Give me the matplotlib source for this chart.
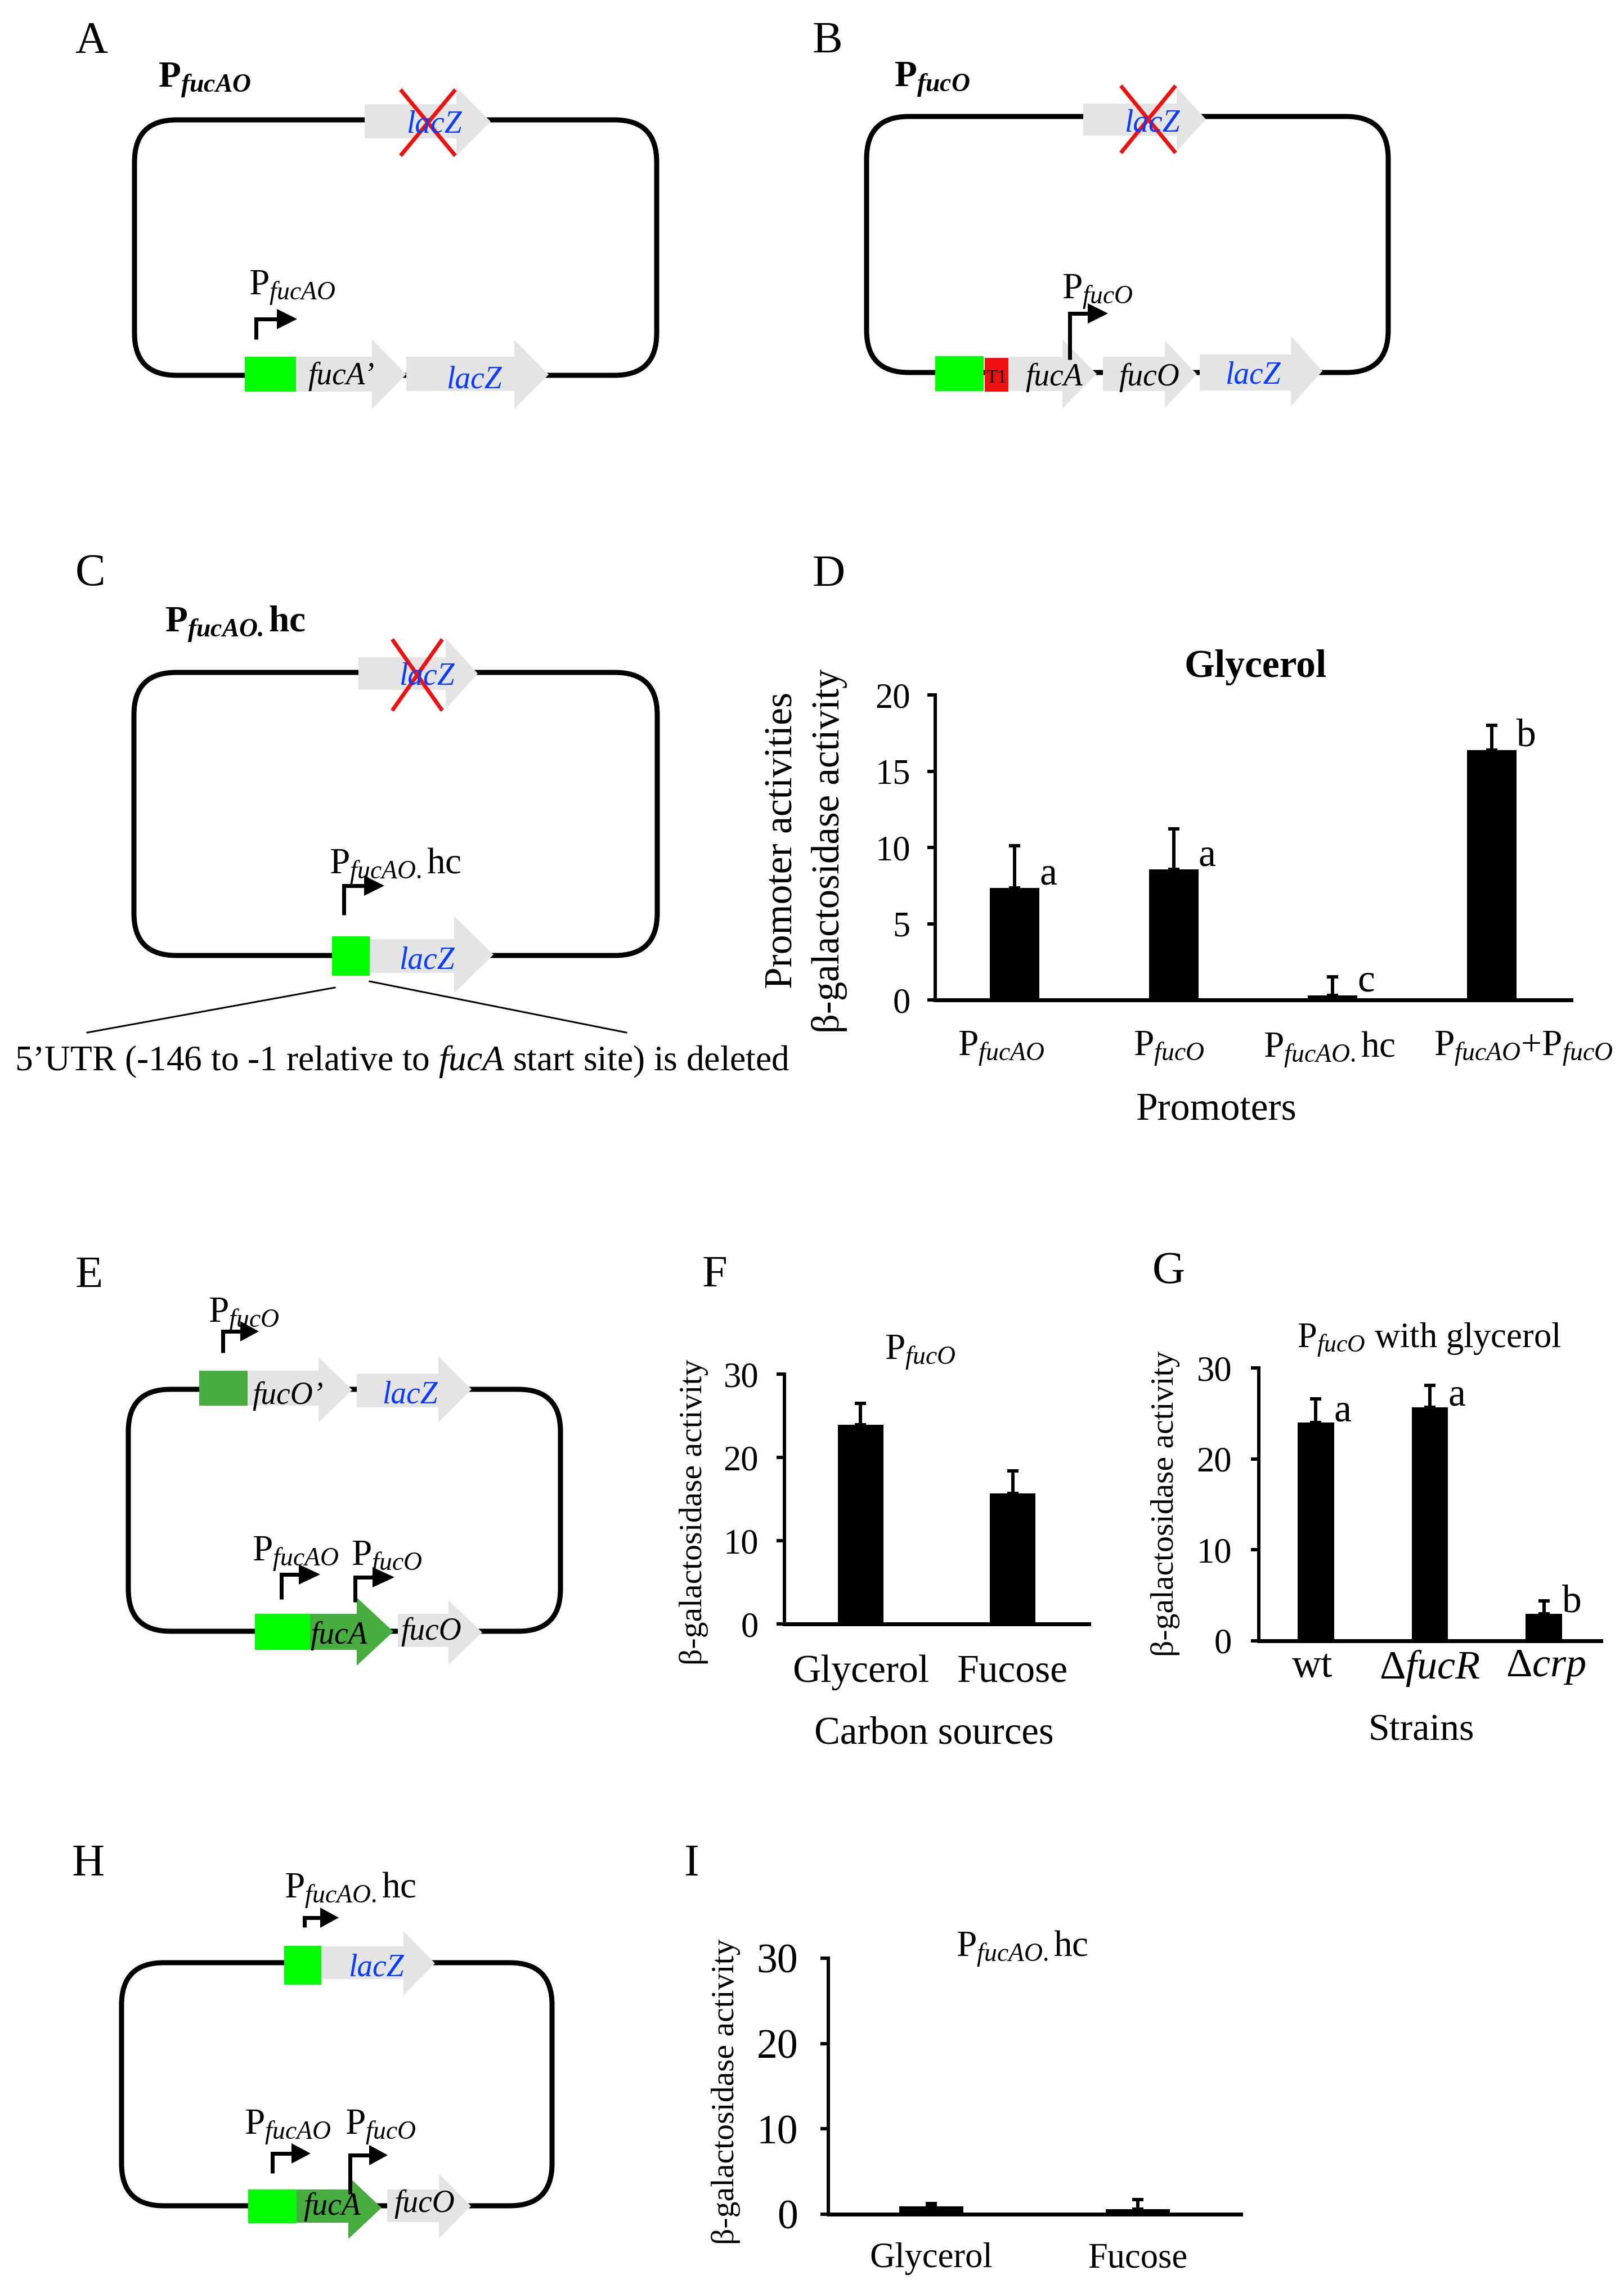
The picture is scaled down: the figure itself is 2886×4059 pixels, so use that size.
import numpy as np
import matplotlib

matplotlib.use("Agg")
import matplotlib.pyplot as plt
from matplotlib.patches import FancyBboxPatch, Polygon, Rectangle

plt.rcParams["font.family"] = ["Liberation Serif", "DejaVu Serif"]
plt.rcParams["mathtext.fontset"] = "custom"
plt.rcParams["mathtext.rm"] = "Liberation Serif"
plt.rcParams["mathtext.it"] = "Liberation Serif:italic"
plt.rcParams["mathtext.bf"] = "Liberation Serif:bold"
plt.rcParams["mathtext.bfit"] = "Liberation Serif:italic:bold"

# chart data
d_labels = [r"$\mathrm{P}_{\mathit{fucAO}}$", r"$\mathrm{P}_{\mathit{fucO}}$",
            r"$\mathrm{P}_{\mathit{fucAO.}}\mathrm{hc}$",
            r"$\mathrm{P}_{\mathit{fucAO}}\mathrm{+P}_{\mathit{fucO}}$"]
d_values = [7.34, 8.56, 0.3, 16.4]
d_errors = [2.76, 2.64, 1.2, 1.6]
d_letters = ["a", "a", "c", "b"]
d_ticks = [0, 5, 10, 15, 20]

f_labels = ["Glycerol", "Fucose"]
f_values = [23.9, 15.7]
f_errors = [2.6, 2.7]
f_ticks = [0, 10, 20, 30]

g_labels = ["wt", r"$\Delta\mathit{fucR}$", r"$\Delta\mathit{crp}$"]
g_values = [24.0, 25.7, 3.0]
g_errors = [2.6, 2.4, 1.4]
g_letters = ["a", "a", "b"]
g_ticks = [0, 10, 20, 30]

i_labels = ["Glycerol", "Fucose"]
i_values = [0.9, 0.6]
i_errors = [0.35, 1.1]
i_ticks = [0, 10, 20, 30]

W, H = 2886, 4059
GRAY = "#e4e4e4"
GREEN = "#00ff00"
DARK = "#46ad3e"
BLUE = "#0a3cff"
RED = "#f01010"
PX = 0.72  # points per pixel at dpi 100

P_AO = r"$\mathrm{P}_{\mathit{fucAO}}$"
P_O = r"$\mathrm{P}_{\mathit{fucO}}$"
P_HC = r"$\mathrm{P}_{\mathit{fucAO.}}\mathrm{hc}$"

fig = plt.figure(figsize=(W / 100, H / 100), dpi=100)
bg = fig.add_axes([0, 0, 1, 1])
bg.set_xlim(0, W)
bg.set_ylim(H, 0)
bg.axis("off")


def label(x, y, s, size=47, **kw):
    kw.setdefault("color", "black")
    bg.text(x, y, s, fontsize=size, va="baseline", zorder=6, **kw)


def loop(x0, y0, x1, y1):
    bg.add_patch(FancyBboxPatch((x0, y0), x1 - x0, y1 - y0,
                                boxstyle="round,pad=0,rounding_size=75",
                                fill=False, ec="black", lw=9 * PX, zorder=1))


def gene(x0, neck, tip, y0, y1, h0, h1, color=GRAY):
    mid = (h0 + h1) / 2
    pts = [(x0, y0), (neck, y0), (neck, h0), (tip, mid), (neck, h1), (neck, y1), (x0, y1)]
    bg.add_patch(Polygon(pts, closed=True, fc=color, ec="none", zorder=2))


def box(x0, x1, y0, y1, color=GREEN):
    bg.add_patch(Rectangle((x0, y0), x1 - x0, y1 - y0, fc=color, ec="none", zorder=3))


def promoter(x, y0, y1, x1, tip, half=18):
    bg.plot([x, x, x1], [y0, y1, y1], color="black", lw=7 * PX, zorder=5,
            solid_joinstyle="miter", solid_capstyle="butt")
    bg.add_patch(Polygon([(x1, y1 - half), (tip, y1), (x1, y1 + half)], fc="black", ec="none", zorder=5))


def cross(x0, x1, y0, y1):
    bg.plot([x0, x1], [y0, y1], color=RED, lw=7 * PX, zorder=5)
    bg.plot([x1, x0], [y0, y1], color=RED, lw=7 * PX, zorder=5)


def gene_text(x, y, s, color="black", ha="left"):
    label(x, y, s, size=40, style="italic", color=color, ha=ha)


def bar_panel(left, right, top, bottom, ymax, values, errors, ticks, labels, width,
              ysize, xsize, ypad, xpad, shift=None, letters=None, dx=3, dy=6):
    ax = fig.add_axes([left / W, 1 - bottom / H, (right - left) / W, (bottom - top) / H])
    ax.patch.set_alpha(0)
    n = len(values)
    x = np.arange(n)
    ax.bar(x, values, width=width, color="black")
    ax.errorbar(x, values, yerr=[np.zeros(n), errors], fmt="none", ecolor="black",
                elinewidth=6 * PX, capsize=10 * PX, capthick=6 * PX)
    ax.set_xlim(-0.5, n - 0.5)
    ax.set_ylim(0, ymax)
    ax.set_yticks(ticks)
    ax.tick_params(axis="y", length=14 * PX, width=6 * PX, labelsize=ysize, pad=ypad * PX)
    pos = x if shift is None else x + np.array(shift)
    ax.set_xticks(pos, labels)
    ax.tick_params(axis="x", length=0, labelsize=xsize, pad=xpad * PX)
    for name in ["top", "right"]:
        ax.spines[name].set_visible(False)
    ax.spines["left"].set_linewidth(6 * PX)
    ax.spines["bottom"].set_linewidth(7 * PX)
    if letters:
        for i, s in enumerate(letters):
            ax.annotate(s, (i + width / 2, values[i]), xytext=(dx, dy), textcoords="offset pixels",
                        fontsize=50, va="baseline")
    return ax


# A
label(133, 94, "A", size=58)
label(281, 155, r"$\mathbf{P}_{\mathbfit{fucAO}}$", size=47)
loop(239, 213, 1167, 667)
gene(648, 811, 872, 185, 246, 155, 277)
gene_text(771, 235, "lacZ", BLUE, "center")
cross(714, 807, 162, 274)
box(435, 526, 634, 696)
gene(526, 661, 722, 634, 696, 603, 727)
gene(722, 914, 975, 634, 695, 604, 727)
gene_text(547, 683, "fucA\u2019")
gene_text(793, 689, "lacZ", BLUE)
promoter(455, 603, 567, 492, 528)
label(442, 524, P_AO)

# B
label(1444, 94, "B", size=58)
label(1589, 154, r"$\mathbf{P}_{\mathbfit{fucO}}$", size=47)
loop(1540, 207, 2467, 662)
gene(1925, 2091, 2143, 184, 241, 155, 269)
gene_text(2047, 233, "lacZ", BLUE, "center")
cross(1994, 2087, 155, 269)
box(1662, 1748, 633, 695)
box(1750, 1792, 636, 696, RED)
label(1771, 680, "T1", size=24, ha="center")
gene(1792, 1888, 1949, 634, 695, 603, 726)
gene(1960, 2070, 2127, 634, 695, 605, 725)
gene(2132, 2294, 2350, 630, 694, 597, 722)
promoter(1901, 639, 557, 1933, 1969)
label(1887, 531, P_O)
gene_text(1873, 685, "fucA", ha="center")
gene_text(2042, 685, "fucO", ha="center")
gene_text(2226, 681, "lacZ", BLUE, "center")

# C
label(134, 1040, "C", size=58)
label(293, 1123, r"$\mathbf{P}_{\mathbfit{fucAO.}}\mathbf{hc}$", size=47)
loop(238, 1195, 1168, 1698)
gene(637, 792, 849, 1168, 1226, 1134, 1260)
gene_text(758, 1216, "lacZ", BLUE, "center")
cross(699, 784, 1139, 1260)
box(590, 657, 1664, 1734)
gene(657, 807, 877, 1669, 1729, 1628, 1765)
gene_text(758, 1721, "lacZ", BLUE, "center")
promoter(611, 1626, 1574, 647, 683)
label(585, 1553, P_HC)
bg.plot([595, 155], [1755, 1835], color="black", lw=3 * PX, zorder=2)
bg.plot([657, 1113], [1744, 1835], color="black", lw=3 * PX, zorder=2)
label(26, 1902, r"5’UTR (-146 to -1 relative to $\mathit{fucA}$ start site) is deleted", size=45.6)

# D
label(1444, 1042, "D", size=58)
ax_d = bar_panel(1662, 2792, 1235, 1777, 20, d_values, d_errors, d_ticks, d_labels, 0.31, 45, 47, 30, 54,
                 shift=[-0.085, -0.03, -0.02, 0.2], letters=d_letters, dx=0, dy=7)
label(2231, 1203, "Glycerol", size=50, weight="bold", ha="center")
label(2162, 1989, "Promoters", size=50, ha="center")
bg.text(1390, 1493, "Promoter activities", fontsize=50, rotation=90, ha="center", va="center")
bg.text(1474, 1512, "\u03b2-galactosidase activity", fontsize=49.5, rotation=90, ha="center", va="center")

# E
label(134, 2288, "E", size=58)
loop(228, 2469, 996, 2899)
box(354, 440, 2436, 2498, DARK)
gene(440, 566, 626, 2436, 2498, 2412, 2528)
gene(634, 779, 838, 2441, 2501, 2410, 2528)
gene_text(448, 2495, "fucO\u2019")
gene_text(728, 2493, "lacZ", BLUE, "center")
promoter(396, 2404, 2366, 427, 460)
label(370, 2350, P_O)
box(453, 551, 2868, 2932)
gene(551, 634, 699, 2868, 2932, 2839, 2960, DARK)
gene(707, 797, 857, 2868, 2927, 2844, 2958)
gene_text(551, 2921, "fucA")
gene_text(712, 2914, "fucO")
promoter(500, 2842, 2798, 531, 569)
label(448, 2774, P_AO)
promoter(631, 2847, 2803, 662, 701)
label(624, 2782, P_O)

# F
label(1248, 2287, "F", size=58)
ax_f = bar_panel(1394, 1935, 2442, 2886, 30, f_values, f_errors, f_ticks, f_labels, 0.3, 45, 50, 32, 54)
label(1635, 2416, P_O, ha="center")
label(1660, 3098, "Carbon sources", size=49.5, ha="center")
bg.text(1233, 2687, "\u03b2-galactosidase activity", fontsize=41.5, rotation=90, ha="center", va="center")

# G
label(2048, 2280, "G", size=58)
ax_g = bar_panel(2237, 2845, 2431, 2916, 30, g_values, g_errors, g_ticks, g_labels, 0.32, 45, 52, 34, 14,
                 shift=[-0.03, 0, 0.02], letters=g_letters, dx=0, dy=3)
label(2540, 2393, P_O + " with glycerol", size=45, ha="center")
label(2526, 3092, "Strains", size=49, ha="center")
bg.text(2071, 2672, "\u03b2-galactosidase activity", fontsize=41.5, rotation=90, ha="center", va="center")

# H
label(128, 3333, "H", size=58)
loop(216, 3488, 981, 3920)
box(505, 571, 3458, 3527)
gene(571, 717, 773, 3459, 3517, 3432, 3546)
gene_text(668, 3511, "lacZ", BLUE, "center")
promoter(541, 3425, 3408, 569, 602)
label(505, 3373, P_HC)
box(441, 527, 3891, 3951)
gene(527, 619, 678, 3891, 3950, 3868, 3979, DARK)
gene(688, 780, 837, 3891, 3949, 3863, 3978)
gene_text(539, 3936, "fucA")
gene_text(700, 3931, "fucO")
promoter(484, 3862, 3827, 518, 552)
label(434, 3793, P_AO)
promoter(622, 3899, 3830, 656, 689)
label(613, 3793, P_O)

# I
label(1215, 3333, "I", size=58)
ax_i = bar_panel(1472, 2205, 3480, 3935, 30, i_values, i_errors, i_ticks, i_labels, 0.31, 53, 45, 40, 50)
label(1699, 3477, P_HC)
bg.text(1290, 3717, "\u03b2-galactosidase activity", fontsize=41.5, rotation=90, ha="center", va="center")

fig.savefig("out.png", dpi=100)
